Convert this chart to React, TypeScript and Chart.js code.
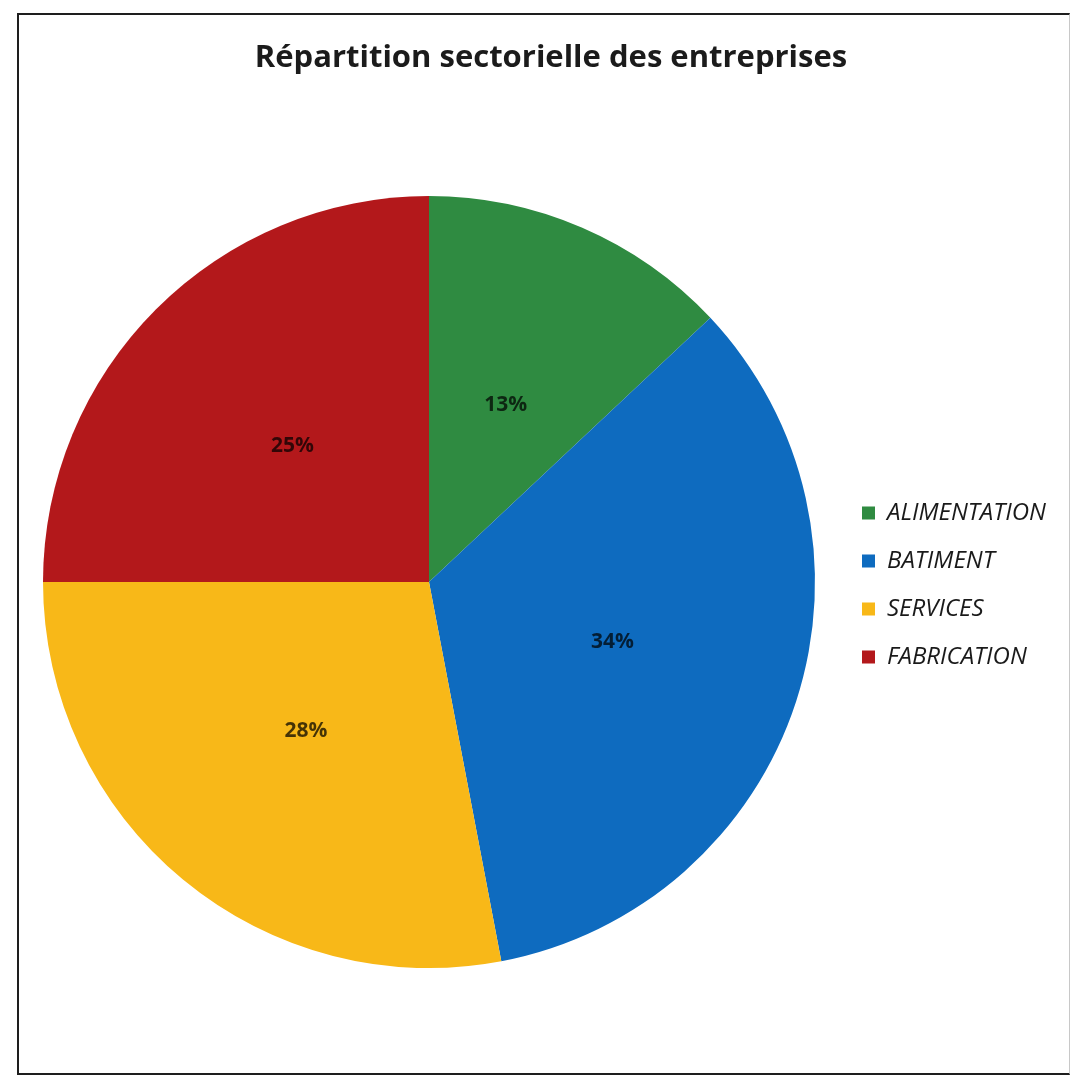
import React, { useEffect, useRef } from "react";
import { Chart, registerables } from "chart.js";

Chart.register(...registerables);

const categories = ["ALIMENTATION", "BATIMENT", "SERVICES", "FABRICATION"];
const shares = [13, 34, 28, 25];
const sliceColors = ["#2f8b41", "#0e6bbf", "#f8b818", "#b3181b"];
const titleText = "Répartition sectorielle des entreprises";

const LEGEND_FONT_SIZE = 24;
const LEGEND_PAD = 24;
const LEGEND_BOX = 13;

const sliceLabels = {
  id: "sliceLabels",
  afterDatasetsDraw(chart: any) {
    const ctx = chart.ctx;
    const meta = chart.getDatasetMeta(0);
    const data = chart.data.datasets[0].data as number[];
    ctx.save();
    ctx.font = "bold 21px 'Open Sans'";
    ctx.fillStyle = "rgba(0,0,0,0.72)";
    ctx.textAlign = "center";
    ctx.textBaseline = "middle";
    meta.data.forEach((arc: any, i: number) => {
      const p = arc.tooltipPosition(false);
      ctx.fillText(`${data[i]}%`, p.x, p.y);
    });
    ctx.restore();
  },
};

export default function App() {
  const ref = useRef<HTMLCanvasElement | null>(null);

  useEffect(() => {
    if (!ref.current) return;
    // measure legend width so the right-hand spacer keeps the title centred
    const mctx = document.createElement("canvas").getContext("2d")!;
    mctx.font = `italic ${LEGEND_FONT_SIZE}px 'Open Sans'`;
    const maxText = Math.max(...categories.map((c) => mctx.measureText(c).width));
    const legendWidth = LEGEND_PAD + LEGEND_BOX + LEGEND_FONT_SIZE / 2 + maxText + 10;
    const legendLeft = 838;
    const outerRight = 1082;
    const spacer = Math.max(outerRight - (legendLeft + legendWidth), 1);

    const chart = new Chart(ref.current, {
      type: "pie",
      data: {
        labels: categories,
        datasets: [
          {
            data: shares,
            backgroundColor: sliceColors,
            borderWidth: 0,
            radius: 386,
          } as any,
        ],
      },
      options: {
        responsive: false,
        animation: false,
        devicePixelRatio: 1,
        layout: { padding: { left: 20, right: 1071 - outerRight, top: 30, bottom: 8 } },
        plugins: {
          title: {
            display: true,
            text: titleText,
            color: "#1b1b1b",
            font: { family: "'Open Sans'", size: 31, weight: "bold", lineHeight: 1.2 },
            padding: { top: 10, bottom: 20 },
          },
          subtitle: {
            display: true,
            position: "right",
            fullSize: false,
            text: "",
            font: { size: 1, lineHeight: 1 },
            padding: { top: spacer - 1, bottom: 0 },
          },
          legend: {
            position: "right",
            fullSize: false,
            title: {
              display: true,
              text: "",
              font: { size: 6, lineHeight: 1 },
              padding: 0,
            },
            labels: {
              boxWidth: LEGEND_BOX,
              boxHeight: LEGEND_BOX,
              padding: LEGEND_PAD,
              color: "#1a1a1a",
              font: { family: "'Open Sans'", size: LEGEND_FONT_SIZE, style: "italic" },
            },
          },
          tooltip: { enabled: false },
        },
      } as any,
      plugins: [sliceLabels],
    });
    return () => chart.destroy();
  }, []);

  return (
    <div
      style={{
        position: "absolute",
        left: 0,
        top: 0,
        width: 1071,
        height: 1075,
        background: "#ffffff",
        overflow: "hidden",
      }}
    >
      <canvas ref={ref} width={1071} height={1075} style={{ display: "block" }} />
      <div
        style={{
          position: "absolute",
          left: 17,
          top: 13,
          width: 1050,
          height: 1058,
          borderTop: "2px solid #1e1e1e",
          borderLeft: "2px solid #1e1e1e",
          borderBottom: "2px solid #1e1e1e",
          borderRight: "1px solid #c8c8c8",
          pointerEvents: "none",
        }}
      />
    </div>
  );
}
